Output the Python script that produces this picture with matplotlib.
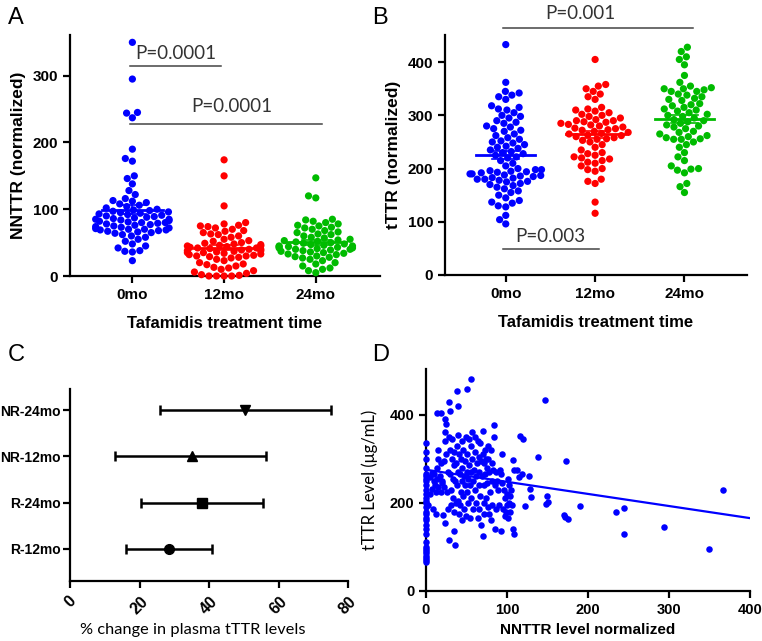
import numpy as np
import pandas as pd
import matplotlib
matplotlib.use("Agg")
import matplotlib.pyplot as plt
import seaborn as sns

# ---- data ----
groups = ["0mo", "12mo", "24mo"]
colors = ["#0000ff", "#ff0000", "#00bb00"]

nnttr_0mo = [350, 295, 245, 244, 237, 190, 176, 172, 150, 146, 138, 128, 122, 116, 113, 112,
             110, 108, 106, 104, 102, 100, 99, 98, 97, 96, 95, 94, 93, 92, 91, 90, 89, 88, 87,
             86, 85, 85, 84, 83, 82, 81, 80, 80, 79, 78, 77, 76, 75, 74, 73, 72, 71, 70, 70,
             69, 69, 68, 67, 66, 65, 64, 62, 60, 58, 55, 52, 48, 45, 42, 38, 37, 36, 23]
nnttr_12mo = [174, 150, 105, 80, 78, 76, 75, 74, 72, 70, 68, 67, 65, 63, 62, 60, 58, 55, 53,
              52, 50, 49, 48, 47, 46, 45, 45, 44, 43, 42, 42, 41, 40, 40, 39, 38, 38, 37, 36,
              35, 35, 34, 33, 32, 31, 30, 30, 29, 28, 27, 25, 23, 20, 18, 17, 15, 13, 12, 10,
              8, 6, 4, 2, 1, 0, 0, 0, 0]
nnttr_24mo = [147, 120, 117, 85, 84, 82, 80, 78, 76, 75, 73, 72, 70, 68, 66, 65, 63, 62, 60,
              58, 57, 55, 54, 53, 52, 51, 50, 49, 48, 47, 46, 45, 45, 44, 44, 43, 42, 42, 41,
              40, 40, 39, 38, 37, 36, 35, 34, 33, 32, 30, 29, 28, 27, 25, 23, 20, 18, 15, 12,
              10, 8, 5]

tttr_0mo = [433, 362, 345, 342, 338, 335, 330, 318, 315, 312, 310, 305, 300, 298, 295, 290,
            287, 285, 280, 278, 275, 272, 270, 265, 262, 258, 255, 252, 250, 248, 245, 242,
            240, 238, 235, 232, 230, 228, 225, 222, 220, 215, 210, 205, 200, 198, 196, 195,
            193, 192, 190, 188, 187, 185, 183, 180, 180, 178, 175, 172, 170, 168, 165, 162,
            158, 155, 150, 145, 140, 137, 135, 130, 128, 112, 104, 96, 182, 186, 190, 194,
            198, 176]
tttr_12mo = [405, 358, 355, 350, 345, 340, 335, 330, 315, 312, 310, 308, 305, 302, 300, 298,
             295, 292, 290, 290, 288, 287, 285, 283, 282, 280, 278, 276, 275, 273, 272, 270,
             268, 266, 265, 263, 262, 260, 258, 256, 255, 253, 250, 245, 240, 235, 230, 228,
             225, 222, 220, 218, 215, 212, 210, 205, 200, 198, 195, 180, 176, 172, 137, 116]
tttr_24mo = [428, 420, 410, 405, 395, 375, 362, 355, 352, 350, 350, 348, 345, 345, 340, 338,
             335, 332, 330, 328, 322, 320, 318, 315, 312, 310, 308, 305, 302, 300, 298, 295,
             292, 290, 288, 285, 282, 280, 278, 275, 270, 268, 265, 262, 260, 258, 256, 255,
             255, 250, 245, 240, 230, 222, 215, 205, 200, 199, 197, 192, 172, 166, 155]

# panel C: % change in tTTR (mean with range)
c_labels = ["R-12mo", "R-24mo", "NR-12mo", "NR-24mo"]
c_mean = [28.5, 38, 35, 50.5]
c_low = [16, 20.5, 13, 26]
c_high = [41, 55.5, 56.5, 75]
c_markers = ["o", "s", "^", "v"]

# panel D: NNTTR vs tTTR
d_x = [0] * 31 + [
    3, 5, 5, 7, 8, 9, 10, 10, 11, 12, 12, 13, 14, 14, 15, 15, 15, 17, 18, 19, 19, 20, 20, 21,
    22, 22, 23, 23, 24, 24, 25, 25, 26, 27, 27, 28, 29, 29, 30, 30, 30, 31, 31, 32, 32, 33,
    33, 34, 34, 35, 35, 36, 36, 37, 37, 38, 38, 38, 39, 39, 40, 40, 41, 41, 42, 42, 43, 43,
    44, 44, 45, 45, 46, 46, 47, 47, 48, 48, 49, 49, 50, 50, 51, 51, 52, 52, 53, 53, 54, 54,
    55, 55, 56, 56, 57, 57, 58, 58, 59, 60, 60, 61, 62, 62, 63, 64, 64, 65, 65, 66, 66, 67,
    67, 68, 68, 69, 70, 70, 70, 71, 71, 72, 72, 73, 73, 74, 74, 75, 75, 76, 76, 77, 78, 78,
    79, 80, 80, 81, 82, 82, 83, 84, 84, 85, 85, 86, 87, 88, 89, 90, 91, 92, 93, 94, 94, 95,
    96, 97, 98, 99, 100, 100, 101, 101, 102, 103, 104, 104, 105, 106, 107, 108, 109, 109,
    112, 115, 116, 118, 120, 122, 127, 128, 130, 138, 147, 148, 150, 149, 170, 172, 175, 173,
    190, 235, 245, 245, 294, 349, 367]
d_y = [336, 315, 300, 280, 265, 260, 255, 250, 240, 230, 220, 210, 205, 200, 190, 180, 175,
       165, 160, 150, 140, 130, 110, 100, 95, 90, 85, 80, 75, 70, 65] + [
    195, 220, 258, 232, 268, 185, 250, 265, 240, 225, 175, 280, 255, 405, 300, 320, 235, 260,
    225, 403, 290, 250, 245, 172, 235, 295, 340, 360, 390, 155, 380, 310, 225, 270, 185, 350,
    428, 115, 409, 320, 265, 195, 230, 300, 345, 255, 210, 135, 285, 178, 315, 250, 105, 200,
    290, 454, 240, 330, 420, 270, 205, 355, 310, 175, 265, 195, 225, 300, 250, 340, 280, 160,
    215, 320, 260, 185, 295, 240, 350, 170, 459, 270, 225, 310, 200, 255, 345, 285, 165, 240,
    330, 270, 481, 210, 300, 360, 250, 185, 275, 230, 315, 350, 200, 260, 290, 165, 340, 240,
    305, 185, 270, 335, 215, 295, 150, 260, 364, 125, 310, 240, 200, 290, 175, 320, 265, 300,
    210, 280, 245, 330, 190, 300, 270, 175, 225, 320, 160, 290, 250, 195, 275, 376, 350, 240,
    140, 185, 270, 250, 230, 195, 275, 265, 135, 310, 245, 185, 230, 170, 210, 180, 220, 195,
    255, 165, 240, 200, 215, 180, 230, 195, 298, 140, 128, 274, 274, 259, 352, 265, 345, 193,
    261, 231, 212, 303, 433, 198, 202, 216, 173, 168, 162, 295, 192, 180, 187, 129, 145, 95,
    230]
fit_intercept = 275
fit_slope = -0.275

BOLD = dict(family="Liberation Sans", fontweight="bold")
PFONT = dict(family="Lato")


def style_axes(ax, size=11, pad=3.5):
    for side in ["top", "right"]:
        ax.spines[side].set_visible(False)
    for side in ["left", "bottom"]:
        ax.spines[side].set_linewidth(1.6)
    ax.tick_params(width=1.6, length=5, labelsize=size, pad=pad)
    for lab in ax.get_xticklabels() + ax.get_yticklabels():
        lab.set_fontfamily("Liberation Sans")
        lab.set_fontweight("bold")


def swarm_panel(ax, series, ylim, yticks):
    df = pd.DataFrame({
        "group": np.repeat(groups, [len(s) for s in series]),
        "value": np.concatenate(series),
    })
    sns.swarmplot(data=df, x="group", y="value", hue="group", order=groups,
                  palette=colors, size=5.2, linewidth=0, ax=ax, legend=False,
                  clip_on=False)
    for i, s in enumerate(series):
        m = np.mean(s)
        sem = np.std(s, ddof=1) / np.sqrt(len(s))
        ax.plot([i - 0.33, i + 0.33], [m, m], color=colors[i], lw=2, zorder=5)
        ax.plot([i, i], [m - sem, m + sem], color=colors[i], lw=1.2, zorder=5)
        for v in (m - sem, m + sem):
            ax.plot([i - 0.15, i + 0.15], [v, v], color=colors[i], lw=1.2, zorder=5)
    ax.set_xlim(-0.68, 2.7)
    ax.set_ylim(*ylim)
    ax.set_yticks(yticks)
    ax.set_xlabel("Tafamidis treatment time", fontsize=12, labelpad=10, **BOLD)
    style_axes(ax)


def bracket(ax, x0, x1, y, text, ty):
    ax.plot([x0, x1], [y, y], color="#444444", lw=1.1, clip_on=False)
    ax.text(ty[0], ty[1], text, ha="center", va="center", fontsize=13.5,
            color="#333333", **PFONT)


fig = plt.figure(figsize=(7.62, 6.41), dpi=100)

# ---- A ----
axA = fig.add_axes([70 / 762, 1 - 276 / 641, 310 / 762, 241 / 641])
swarm_panel(axA, [nnttr_0mo, nnttr_12mo, nnttr_24mo], (0, 361), [0, 100, 200, 300])
axA.set_ylabel("NNTTR (normalized)", fontsize=12.5, labelpad=5, **BOLD)
bracket(axA, -0.03, 0.97, 315, "P=0.0001", (0.47, 333))
bracket(axA, -0.03, 2.07, 227, "P=0.0001", (1.08, 254))

# ---- B ----
axB = fig.add_axes([445 / 762, 1 - 275 / 641, 302 / 762, 240 / 641])
swarm_panel(axB, [tttr_0mo, tttr_12mo, tttr_24mo], (0, 451), [0, 100, 200, 300, 400])
axB.set_ylabel("tTTR (normalized)", fontsize=12.5, labelpad=5, **BOLD)
bracket(axB, -0.03, 2.1, 465, "P=0.001", (0.84, 492))
bracket(axB, -0.03, 1.04, 49, "P=0.003", (0.5, 73))

# ---- C ----
axC = fig.add_axes([70 / 762, 1 - 581 / 641, 278 / 762, 192 / 641])
ypos = np.arange(1, len(c_labels) + 1)
for i in range(len(c_labels)):
    axC.errorbar(c_mean[i], ypos[i],
                 xerr=[[c_mean[i] - c_low[i]], [c_high[i] - c_mean[i]]],
                 fmt=c_markers[i], color="black", ms=7, elinewidth=1.8, capsize=3.5,
                 capthick=1.8)
axC.set_ylim(0.3, 4.46)
axC.set_xlim(0, 80)
axC.set_yticks(ypos)
axC.set_yticklabels(c_labels)
axC.set_xticks([0, 20, 40, 60, 80])
style_axes(axC, size=10, pad=2)
axC.set_xticklabels([str(v) for v in [0, 20, 40, 60, 80]], rotation=45, fontsize=11.5,
                    family="Liberation Sans", fontweight="bold")
axC.tick_params(axis="x", pad=4)
axC.set_xlabel("% change in plasma tTTR levels", fontsize=11.8, labelpad=5, **PFONT)
axC.xaxis.set_label_coords(0.44, -0.22)

# ---- D ----
axD = fig.add_axes([426 / 762, 1 - 590.7 / 641, 324 / 762, 221.7 / 641])
axD.scatter(d_x, d_y, s=22, color="#0000ff", linewidths=0, clip_on=False, zorder=3)
xl = np.array([0, 400])
axD.plot(xl, fit_intercept + fit_slope * xl, color="#0000ff", lw=1.6, zorder=4)
axD.set_xlim(0, 400)
axD.set_ylim(0, 504)
axD.set_xticks([0, 100, 200, 300, 400])
axD.set_yticks([0, 200, 400])
style_axes(axD, size=10.5)
axD.set_xlabel("NNTTR level normalized", fontsize=11, labelpad=5, **BOLD)
axD.set_ylabel("tTTR Level (μg/mL)", fontsize=12, labelpad=8, family=["Lato", "DejaVu Sans"])

# panel letters
for letter, x, y in [("A", 8, 18), ("B", 372, 18), ("C", 8, 355), ("D", 372, 355)]:
    fig.text(x / 762, 1 - y / 641, letter, fontsize=17, family="Liberation Sans",
             va="center", ha="left")

fig.savefig("out.png", dpi=100)
